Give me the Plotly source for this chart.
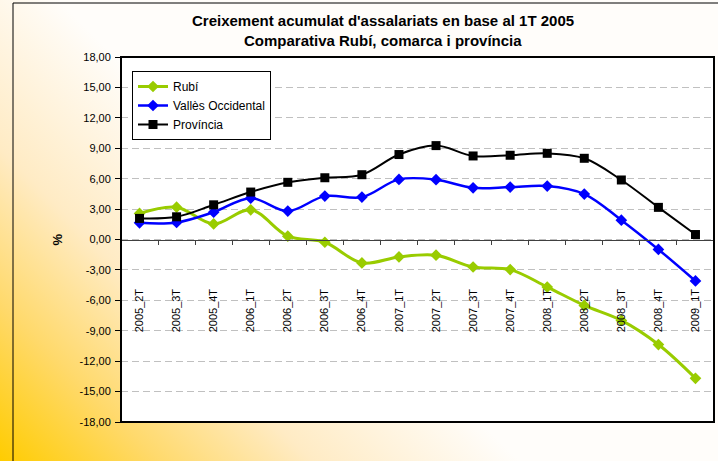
import base64
import plotly.graph_objects as go

# categories (quarters)
quarters = ["2005_2T", "2005_3T", "2005_4T", "2006_1T", "2006_2T", "2006_3T",
            "2006_4T", "2007_1T", "2007_2T", "2007_3T", "2007_4T", "2008_1T",
            "2008_2T", "2008_3T", "2008_4T", "2009_1T"]

# cumulative growth of employees (%)
rubi = [2.57, 3.19, 1.54, 2.93, 0.33, -0.27, -2.31, -1.72,
        -1.55, -2.71, -2.97, -4.69, -6.50, -7.98, -10.36, -13.69]
valles = [1.64, 1.68, 2.70, 4.08, 2.80, 4.28, 4.18, 5.93,
          5.90, 5.10, 5.17, 5.27, 4.48, 1.91, -0.98, -4.09]
provincia = [2.08, 2.24, 3.42, 4.68, 5.64, 6.09, 6.39, 8.38,
             9.26, 8.24, 8.31, 8.50, 8.01, 5.87, 3.17, 0.49]

y_ticks = [18, 15, 12, 9, 6, 3, 0, -3, -6, -9, -12, -15, -18]
y_tick_labels = ["18,00", "15,00", "12,00", "9,00", "6,00", "3,00", "0,00",
                 "-3,00", "-6,00", "-9,00", "-12,00", "-15,00", "-18,00"]

FONT = "Liberation Sans, Arial, sans-serif"
W, H = 718, 461
L, R, T, B = 121, 4, 57, 39
PW, PH = W - L - R, H - T - B

# gradient background (yellow bottom-left to white top-right)
svg = f'''<svg xmlns="http://www.w3.org/2000/svg" width="{W}" height="{H}" viewBox="0 0 {W} {H}" preserveAspectRatio="none">
<defs><linearGradient id="g" gradientUnits="userSpaceOnUse" x1="0" y1="{H}" x2="260" y2="{H - 260}">
<stop offset="0" stop-color="#FFCC00"/>
<stop offset="0.3" stop-color="#FFD96A"/>
<stop offset="0.6" stop-color="#FFEBC4"/>
<stop offset="1" stop-color="#FFFDFA"/>
</linearGradient></defs>
<rect width="{W}" height="{H}" fill="url(#g)"/></svg>'''
bg_src = "data:image/svg+xml;base64," + base64.b64encode(svg.encode()).decode()

fig = go.Figure()

fig.add_trace(go.Scatter(
    x=quarters, y=rubi, name="Rubí", mode="lines+markers",
    line=dict(color="#99CC00", width=3, shape="spline"),
    marker=dict(symbol="diamond", size=9, color="#99CC00"),
))
fig.add_trace(go.Scatter(
    x=quarters, y=valles, name="Vallès Occidental", mode="lines+markers",
    line=dict(color="#0000FF", width=2.5, shape="spline"),
    marker=dict(symbol="diamond", size=9, color="#0000FF"),
))
fig.add_trace(go.Scatter(
    x=quarters, y=provincia, name="Província", mode="lines+markers",
    line=dict(color="black", width=2, shape="spline"),
    marker=dict(symbol="square", size=9, color="black"),
))

fig.update_xaxes(
    type="category",
    range=[-0.5, len(quarters) - 0.5],
    anchor="free",
    position=0.5,
    showline=True,
    linecolor="#404040",
    linewidth=1,
    ticks="outside",
    ticklen=4,
    tickcolor="#404040",
    tickson="boundaries",
    tickangle=-90,
    ticklabelstandoff=44,
    tickfont=dict(family=FONT, size=11, color="black"),
    showgrid=False,
    zeroline=False,
)

fig.update_yaxes(
    range=[-18, 18],
    tickvals=y_ticks,
    ticktext=y_tick_labels,
    ticks="outside",
    ticklen=5,
    tickcolor="black",
    ticklabelstandoff=2,
    tickfont=dict(family=FONT, size=11, color="black"),
    showline=False,
    showgrid=True,
    gridcolor="#C0C0C0",
    griddash="7px,4px",
    zeroline=False,
)

fig.update_layout(
    width=W,
    height=H,
    margin=dict(l=L, r=R, t=T, b=B),
    paper_bgcolor="white",
    plot_bgcolor="rgba(0,0,0,0)",
    font=dict(family=FONT, size=11, color="black"),
    showlegend=True,
    legend=dict(
        x=(132 - L) / PW, y=1 - (71 - T) / PH,
        xanchor="left", yanchor="top",
        bgcolor="white", bordercolor="black", borderwidth=1,
        font=dict(family=FONT, size=12, color="black"),
        itemwidth=30,
    ),
    images=[dict(
        source=bg_src, xref="paper", yref="paper",
        x=-L / PW, y=1 + T / PH, sizex=W / PW, sizey=H / PH,
        xanchor="left", yanchor="top", sizing="stretch", layer="below",
    )],
    shapes=[
        # white plot area
        dict(type="rect", xref="paper", yref="paper", x0=0, x1=1, y0=0, y1=1,
             fillcolor="white", line=dict(width=0), layer="below"),
        # plot area frame
        dict(type="rect", xref="paper", yref="paper", x0=0, x1=1, y0=0, y1=1,
             line=dict(color="black", width=2), layer="above"),
        # outer chart frame
        dict(type="rect", xref="paper", yref="paper",
             x0=(13 - L) / PW, x1=1.2, y0=-0.3, y1=1 + (T - 3) / PH,
             line=dict(color="black", width=1), layer="above"),
    ],
    annotations=[
        dict(text="<b>Creixement acumulat d'assalariats en base al 1T 2005</b>",
             xref="paper", yref="paper", x=(383 - L) / PW, y=1 + (T - 21) / PH,
             xanchor="center", yanchor="middle", showarrow=False,
             font=dict(family=FONT, size=15, color="black")),
        dict(text="<b>Comparativa Rubí, comarca i província</b>",
             xref="paper", yref="paper", x=(383 - L) / PW, y=1 + (T - 41) / PH,
             xanchor="center", yanchor="middle", showarrow=False,
             font=dict(family=FONT, size=15, color="black")),
        dict(text="<b>%</b>", xref="paper", yref="paper",
             x=(57 - L) / PW, y=0.5, textangle=-90,
             xanchor="center", yanchor="middle", showarrow=False,
             font=dict(family=FONT, size=13, color="black")),
    ],
)

# drop the default page margin so the figure sits at the window's top-left
fig.write_html("out.html", config={"displayModeBar": False},
               post_script="document.body.style.margin='0px';")
